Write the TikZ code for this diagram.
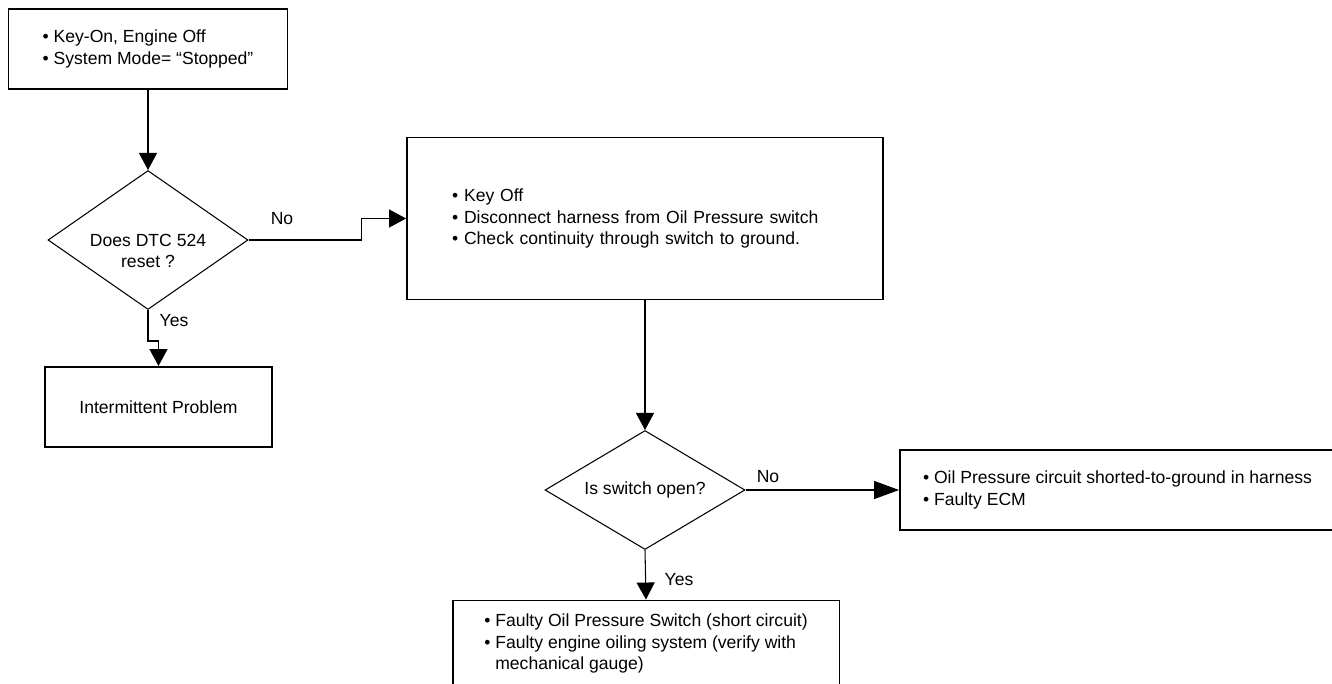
\documentclass[tikz,border=0pt]{standalone}
\usepackage{fontspec}
\setmainfont{Liberation Sans}
\usetikzlibrary{shapes.geometric,arrows.meta}

\begin{document}
\begin{tikzpicture}[x=0.02cm,y=-0.02cm,font=\fontsize{10}{12.2}\selectfont,
  box/.style={draw,line width=1.1pt,align=left,inner sep=0pt},
  ask/.style={draw,diamond,aspect=1.6,line width=0.6pt,align=center,inner sep=0pt,minimum width=4cm},
  link/.style={line width=0.6pt,-{Triangle[length=0.34cm,width=0.36cm]}}]
  \useasboundingbox (0,0) rectangle (1332,683);
  \clip (0,0) rectangle (1332,683);
  \node[box,minimum width=5.58cm,minimum height=1.6cm] (keyon) at (148,49)
    {\textbullet\ Key-On, Engine Off\\\textbullet\ System Mode= “Stopped”};
  \node[ask,minimum height=2.78cm] (reset) at (148,240)
    {\raisebox{-0.345cm}[0pt][0pt]{\begin{tabular}{@{}c@{}}Does DTC 524\\reset ?\end{tabular}}};
  \node[box,minimum width=4.54cm,minimum height=1.6cm,align=center] (interm) at (158.5,407)
    {Intermittent Problem};
  \node[box,minimum width=9.52cm,minimum height=3.24cm,inner xsep=0.9cm,text width=7.72cm] (keyoff) at (645,218.5)
    {\textbullet\ Key Off\\\textbullet\ Disconnect harness from Oil Pressure switch\\\textbullet\ Check continuity through switch to ground.};
  \node[ask,minimum height=2.38cm] (open) at (645,490) {Is switch open?};
  \node[box,minimum width=8.7cm,minimum height=1.6cm] (short) at (1117.5,490)
    {\textbullet\ Oil Pressure circuit shorted-to-ground in harness\\\textbullet\ Faulty ECM};
  \node[box,minimum width=7.74cm,minimum height=1.72cm] (faulty) at (646,643.5)
    {\textbullet\ Faulty Oil Pressure Switch (short circuit)\\\textbullet\ Faulty engine oiling system (verify with\\\hphantom{\textbullet\ }mechanical gauge)};
  \foreach \n/\x/\y/\t in {noa/282/219/No,yesa/174/321/Yes,nob/768/477/No,yesb/679/580/Yes}
    \node (\n) at (\x,\y) {\t};
  \draw[link] (keyon.south) -- (reset.north);
  \draw[link] (reset.east) -- ++(113,0) |- (keyoff.west);
  \draw[link] (reset.south) -- ++(0,31) -| (interm.north);
  \draw[link] (keyoff.south) -- (open.north);
  \draw[link,-{Triangle[length=0.5cm,width=0.36cm]}] (open.east) -- (short.west);
  \draw[link] (open.south) -- (faulty.north);
\end{tikzpicture}
\end{document}
